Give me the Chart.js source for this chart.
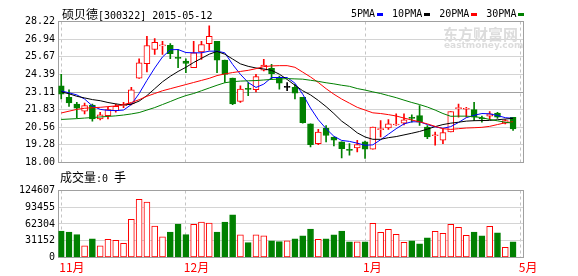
<!DOCTYPE html>
<html>
<head>
<meta charset="utf-8">
<script src="https://cdn.jsdelivr.net/npm/chart.js@4.4.1/dist/chart.umd.min.js"></script>
<style>
    body { margin: 0; width: 578px; height: 276px; background: #fff; position: relative; overflow: hidden;
           font-family: 'DejaVu Sans Mono', 'Noto Sans CJK SC', monospace; color: #000; }
    canvas { position: absolute; left: 0; }
    #priceChart { top: 0; }
    #volumeChart { top: 170px; }
    .cjk { font-family: 'Noto Sans CJK SC', sans-serif; font-size: 12px; }
    .title { position: absolute; left: 62px; top: 6px; font-size: 10px; line-height: 16px; white-space: nowrap; }
    .legend { position: absolute; left: 351px; top: 6px; font-size: 10px; line-height: 16px; white-space: nowrap; }
    .legend i { display: inline-block; width: 6px; height: 3px; margin: 0 9px 0 2px; vertical-align: middle; }
    .volLabel { position: absolute; left: 60px; top: 169px; font-size: 10px; line-height: 16px; white-space: nowrap; }
    .mark { position: absolute; left: 443px; top: 25px; color: #dcdcdc; font-family: 'Noto Sans CJK SC', sans-serif;
            font-weight: bold; font-size: 15px; line-height: 17px; }
    .mark2 { position: absolute; left: 444px; top: 40px; color: #dcdcdc; font-family: 'DejaVu Sans', sans-serif;
             font-weight: bold; font-size: 9px; line-height: 11px; }
</style>
</head>
<body>
<canvas id="priceChart" width="578" height="172"></canvas>
<canvas id="volumeChart" width="578" height="106"></canvas>
<div class="mark">东方财富网</div>
<div class="mark2">eastmoney.com</div>
<div class="title"><span class="cjk">硕贝德</span>[300322] 2015-05-12</div>
<div class="legend">5PMA<i style="background:#0000ff"></i>10PMA<i style="background:#000"></i>20PMA<i style="background:#ff0000"></i>30PMA<i style="background:#008000;margin-right:0"></i></div>
<div class="volLabel"><span class="cjk">成交量</span>:0 <span class="cjk">手</span></div>
<script>
// daily candles (index 0 = first trading day shown)
const opens = [23.55, 22.72, 22.24, 21.72, 22.17, 21.16, 21.40, 21.76, 22.12, 22.24,
    24.11, 25.16, 26.19, 26.45, 26.50, 25.60, 25.35, 24.87, 26.02, 26.62,
    26.78, 25.42, 24.11, 22.43, 23.34, 23.27, 24.70, 24.82, 24.16, 23.44,
    23.44, 22.72, 20.80, 19.37, 20.50, 19.85, 19.49, 18.90, 19.06, 19.49,
    18.96, 20.38, 20.50, 20.72, 20.85, 21.22, 21.40, 20.57, 19.94, 19.61,
    20.21, 21.91, 21.86, 21.83, 21.19, 21.36, 21.59, 20.85, 21.28];
const highs = [24.39, 23.27, 22.36, 22.31, 22.24, 21.64, 22.00, 22.24, 22.36, 23.44,
    25.52, 27.14, 26.98, 26.78, 26.62, 26.19, 25.52, 26.78, 26.78, 27.91,
    26.78, 25.42, 24.11, 23.55, 23.80, 24.39, 25.47, 25.11, 24.27, 23.80,
    23.67, 22.72, 20.80, 20.40, 20.68, 19.85, 19.49, 19.37, 19.61, 19.55,
    20.57, 21.04, 21.11, 21.52, 21.52, 21.45, 22.12, 20.68, 20.21, 20.45,
    21.69, 22.24, 22.00, 22.36, 21.36, 21.69, 21.64, 21.11, 21.28];
const lows = [22.60, 22.07, 21.24, 21.52, 21.00, 21.09, 21.16, 21.64, 21.97, 22.17,
    24.09, 24.56, 25.83, 25.83, 25.52, 24.87, 24.52, 24.87, 25.47, 26.14,
    24.52, 23.80, 22.19, 22.36, 22.84, 23.12, 24.63, 24.03, 23.32, 23.20,
    22.60, 20.85, 19.13, 19.30, 19.49, 19.20, 18.34, 18.53, 18.77, 18.29,
    18.96, 19.85, 20.40, 20.68, 20.73, 20.92, 20.68, 19.73, 19.25, 19.37,
    20.21, 21.29, 21.29, 21.04, 20.93, 21.11, 21.20, 20.80, 20.32];
const closes = [22.96, 22.31, 21.93, 22.12, 21.16, 21.45, 21.83, 22.07, 22.17, 23.27,
    25.23, 26.48, 26.71, 26.50, 25.88, 25.55, 25.18, 25.95, 26.55, 27.14,
    25.42, 24.39, 22.24, 23.32, 23.30, 24.23, 25.06, 24.44, 23.75, 23.44,
    23.03, 20.88, 19.30, 20.21, 19.96, 19.61, 19.01, 18.88, 19.30, 18.96,
    20.57, 20.42, 20.80, 20.76, 21.09, 21.20, 20.93, 19.85, 19.98, 20.16,
    21.69, 21.93, 21.88, 21.28, 21.16, 21.52, 21.28, 21.04, 20.44];
const volumes = [49350, 47500, 42570, 21600, 34550, 21600, 33930, 32080, 26530, 70950,
    107960, 103030, 58600, 38250, 47500, 62300, 42570, 61690, 66010, 64160,
    47500, 66010, 79580, 41950, 27760, 41950, 40100, 30850, 29610, 30850,
    34550, 40100, 53060, 33930, 34550, 41950, 49350, 29000, 29000, 29000,
    63540, 46890, 52440, 43190, 28380, 30850, 25300, 36400, 48740, 45030,
    61690, 56140, 41330, 47500, 40100, 57990, 45650, 19130, 29000];

// moving averages as drawn in the picture
const ma5 = [23.19, 23.05, 22.90, 22.60, 22.10, 21.85, 21.78, 21.76, 21.80, 22.20,
    23.00, 23.95, 24.85, 25.65, 26.17, 26.19, 25.97, 25.95, 25.95, 26.07,
    26.07, 25.95, 25.11, 24.39, 23.80, 23.44, 23.68, 24.16, 24.16, 24.16,
    23.75, 22.95, 21.95, 21.10, 20.45, 19.90, 19.60, 19.53, 19.40, 19.25,
    19.28, 19.65, 20.05, 20.45, 20.80, 20.95, 20.95, 20.75, 20.58, 20.48,
    20.60, 20.90, 21.25, 21.42, 21.55, 21.53, 21.40, 21.25, 21.20];
const ma10 = [23.12, 22.98, 22.80, 22.68, 22.56, 22.48, 22.35, 22.25, 22.17, 22.22,
    22.45, 22.85, 23.35, 23.85, 24.25, 24.60, 24.90, 25.25, 25.55, 25.85,
    26.05, 25.85, 25.50, 25.15, 24.97, 24.85, 24.78, 24.68, 24.40, 24.02,
    23.60, 23.20, 22.90, 22.50, 22.05, 21.55, 21.00, 20.60, 20.15, 19.85,
    19.68, 19.68, 19.80, 19.88, 20.00, 20.12, 20.25, 20.42, 20.60, 20.75,
    20.85, 20.92, 21.00, 21.03, 21.04, 21.05, 21.10, 21.15, 21.20];
const ma20 = [21.59, 21.72, 21.85, 21.93, 21.97, 22.00, 22.05, 22.10, 22.20, 22.35,
    22.55, 22.80, 23.00, 23.20, 23.35, 23.50, 23.65, 23.80, 23.95, 24.10,
    24.30, 24.42, 24.52, 24.60, 24.68, 24.80, 24.95, 25.00, 25.02, 25.02,
    24.90, 24.55, 24.20, 23.80, 23.35, 22.95, 22.60, 22.30, 22.00, 21.80,
    21.60, 21.55, 21.47, 21.37, 21.22, 21.08, 20.95, 20.80, 20.62, 20.45,
    20.40, 20.45, 20.50, 20.52, 20.55, 20.62, 20.75, 20.88, 20.95];
const ma30 = [21.12, 21.15, 21.18, 21.22, 21.26, 21.30, 21.34, 21.38, 21.44, 21.52,
    21.62, 21.80, 21.98, 22.20, 22.42, 22.65, 22.85, 23.00, 23.20, 23.40,
    23.60, 23.78, 23.86, 23.90, 23.92, 23.94, 23.98, 24.02, 24.05, 24.08,
    24.06, 24.04, 23.96, 23.88, 23.78, 23.70, 23.60, 23.52, 23.36, 23.25,
    23.12, 23.00, 22.85, 22.70, 22.52, 22.35, 22.20, 22.02, 21.80, 21.55,
    21.35, 21.36, 21.36, 21.32, 21.25, 21.12, 21.02, 20.92, 20.85];

// axis ticks
const priceTicks = [18.00, 19.28, 20.56, 21.83, 23.11, 24.39, 25.67, 26.94, 28.22];
const volumeTicks = [0, 31152, 62304, 93455, 124607];
const monthLabels = ['11月', '12月', '1月', '5月'];
const monthIdx = [0, 16, 39, 59];

const RED = '#ff0000';
const GREEN = '#008000';
const FRAME = '#a0a0a0';
const LIGHT = '#d4d4d4';
const numFont = { family: 'DejaVu Sans Mono', size: 10 };

const candleColor = opens.map((o, i) => closes[i] > o ? RED : (closes[i] < o ? GREEN : '#000'));
const volUp = opens.map((o, i) => closes[i] >= o);

// grey box around the plot area
const frame = {
    id: 'frame',
    beforeDatasetsDraw(chart) {
        const a = chart.chartArea;
        const ctx = chart.ctx;
        ctx.save();
        ctx.strokeStyle = FRAME;
        ctx.lineWidth = 1;
        ctx.strokeRect(a.left, a.top, a.right - a.left, a.bottom - a.top);
        ctx.restore();
    }
};

function monthAxis(showLabels) {
    return {
        type: 'linear',
        min: -0.35,
        max: 59.34,
        offset: false,
        afterBuildTicks: s => { s.ticks = monthIdx.map(v => ({ value: v })); },
        afterFit: s => { s.height = showLabels ? 18.5 : 0; },
        grid: { offset: false, drawTicks: false, color: '#c4c4c4' },
        border: { display: false, dash: [3, 3] },
        ticks: {
            display: showLabels,
            autoSkip: false,
            maxRotation: 0,
            align: 'start',
            labelOffset: -2,
            padding: 3,
            color: RED,
            font: { family: 'Noto Sans CJK SC', size: 12 },
            callback: v => monthLabels[monthIdx.indexOf(v)]
        }
    };
}

// 1) candles + moving averages
const lineSet = (data, color) => ({
    type: 'line',
    data: data.map((v, i) => ({ x: i, y: v })),
    borderColor: color,
    borderWidth: 1,
    pointRadius: 0,
    tension: 0,
    order: 1
});

new Chart(document.getElementById('priceChart').getContext('2d'), {
    type: 'line',
    data: {
        datasets: [
            {
                type: 'bar',
                data: opens.map((o, i) => ({ x: i, y: [lows[i], highs[i]] })),
                backgroundColor: candleColor,
                barThickness: 1,
                grouped: false,
                order: 3
            },
            {
                type: 'bar',
                data: opens.map((o, i) => ({ x: i, y: [o, closes[i]] })),
                backgroundColor: candleColor.map(c => c === RED ? '#fff' : c),
                borderColor: candleColor,
                borderWidth: 1,
                borderSkipped: false,
                barThickness: 6,
                minBarLength: 1,
                grouped: false,
                order: 2
            },
            lineSet(ma30, GREEN),
            lineSet(ma20, RED),
            lineSet(ma10, '#000'),
            lineSet(ma5, '#0000ff')
        ]
    },
    options: {
        responsive: false,
        animation: false,
        layout: { padding: { top: 21.5, right: 54.5, bottom: 7.5, left: 0 } },
        plugins: { legend: { display: false }, tooltip: { enabled: false } },
        scales: {
            x: monthAxis(false),
            y: {
                min: 18,
                max: 28.22,
                afterBuildTicks: s => { s.ticks = priceTicks.map(v => ({ value: v })); },
                afterFit: s => { s.width = 58.5; },
                grid: { drawTicks: false, color: c => (c.tick && c.tick.value === 23.11) ? FRAME : LIGHT },
                border: { display: false },
                ticks: { padding: 3.5, color: '#000', font: numFont, callback: v => v.toFixed(2) }
            }
        }
    },
    plugins: [frame]
});

// 2) volume
new Chart(document.getElementById('volumeChart').getContext('2d'), {
    type: 'line',
    data: {
        datasets: [
            {
                type: 'bar',
                data: volumes.map((v, i) => ({ x: i, y: v })),
                backgroundColor: volUp.map(u => u ? '#fff' : GREEN),
                borderColor: volUp.map(u => u ? RED : GREEN),
                borderWidth: 1,
                borderSkipped: false,
                barThickness: 6,
                grouped: false
            }
        ]
    },
    options: {
        responsive: false,
        animation: false,
        layout: { padding: { top: 20.5, right: 54.5, bottom: 0, left: 0 } },
        plugins: { legend: { display: false }, tooltip: { enabled: false } },
        scales: {
            x: monthAxis(true),
            y: {
                min: 0,
                max: 124607,
                afterBuildTicks: s => { s.ticks = volumeTicks.map(v => ({ value: v })); },
                afterFit: s => { s.width = 58.5; },
                grid: { drawTicks: false, color: LIGHT },
                border: { display: false },
                ticks: { padding: 3.5, color: '#000', font: numFont, callback: v => String(v) }
            }
        }
    },
    plugins: [frame]
});
</script>
</body>
</html>
